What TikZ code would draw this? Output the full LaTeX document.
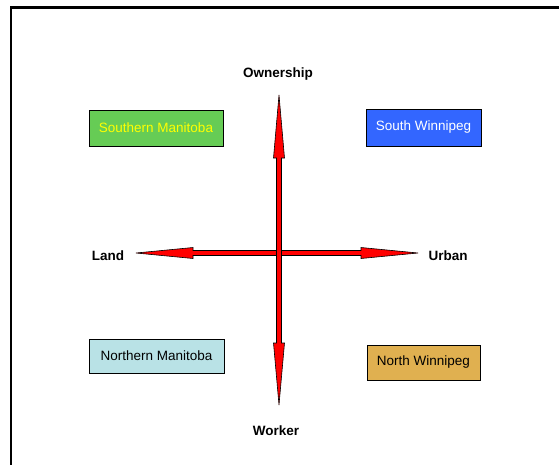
\documentclass[tikz,border=0pt]{standalone}
\usepackage{fontspec}
\setmainfont{Liberation Sans}
\definecolor{smgreen}{RGB}{102,204,85}
\definecolor{swblue}{RGB}{51,102,255}
\definecolor{nmcyan}{RGB}{185,226,230}
\definecolor{nwgold}{RGB}{224,176,80}
\definecolor{smtext}{RGB}{255,255,0}
\begin{document}
\begin{tikzpicture}[x=1pt,y=-1pt,
  region/.style={draw=black, line width=0.8pt, minimum height=35pt, inner sep=0pt, font=\fontsize{13.5}{15}\selectfont},
  axislabel/.style={font=\fontsize{13.5}{15}\selectfont\bfseries},
  arrowshape/.style={fill=red, draw=black, line width=0.6pt, line join=miter}]
\clip (0,0) rectangle (559,464);
\useasboundingbox (0,0) rectangle (559,464);
\fill[white] (0,0) rectangle (559,464);
% frame
\draw[line width=2.6pt] (10.8,7.3) rectangle (620,520);
% labels
\node[axislabel] (own) at (278,74) {Ownership};
\node[axislabel] (wrk) at (276,431) {Worker};
\node[axislabel] (land) at (108,256) {Land};
\node[axislabel] (urb) at (448,256) {Urban};
% boxes
\node[region, fill=smgreen, text=smtext, minimum width=134pt, minimum height=36pt] (sm) at (156,128) {Southern Manitoba};
\node[region, fill=swblue, text=white, minimum width=115pt, minimum height=37pt] (sw) at (423.5,127.5) {South Winnipeg};
\node[region, fill=nmcyan, text=black, minimum width=135pt, minimum height=34pt] (nm) at (156.5,356) {Northern Manitoba};
\node[region, fill=nwgold, text=black, minimum width=113pt, minimum height=35pt] (nw) at (423.5,362.5) {North Winnipeg};
% arrow tips
\coordinate (ltip) at (136,253);
\coordinate (rtip) at (418,253);
\coordinate (ttip) at (279,95);
\coordinate (btip) at (279,405);
% horizontal double arrow
\draw[arrowshape] (ltip) -- (193,247.5) -- (193,250.5) -- (361,250.5) -- (361,247.5) -- (rtip)
  -- (361,258.5) -- (361,255.5) -- (193,255.5) -- (193,258.5) -- cycle;
% vertical double arrow
\draw[arrowshape] (ttip) -- (284.5,158) -- (281.5,158) -- (281.5,343) -- (284.5,343) -- (btip)
  -- (273.5,343) -- (276.5,343) -- (276.5,158) -- (273.5,158) -- cycle;
\end{tikzpicture}
\end{document}
